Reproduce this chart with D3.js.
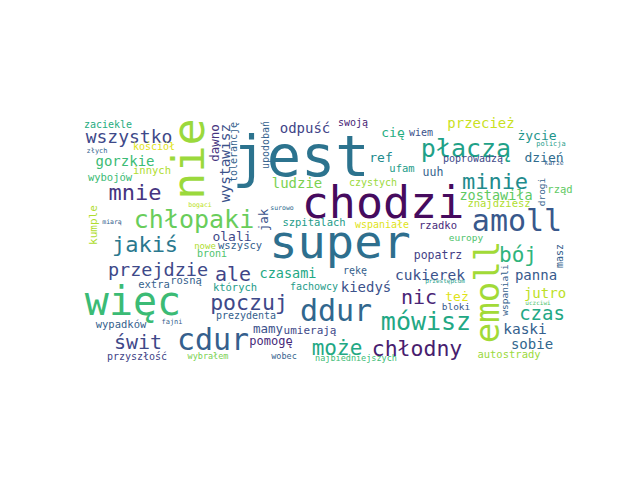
<!DOCTYPE html>
<html>
<head>
<meta charset="utf-8">
<script src="https://cdn.jsdelivr.net/npm/d3@7"></script>
<style>
  body { margin: 0; background: #fff; }
  text { font-family: "DejaVu Sans Mono", monospace; }
</style>
</head>
<body>
<svg id="chart" width="640" height="480"></svg>
<script>
// words of the cloud and their weights
var words = ["jest", "chodzi", "super", "nie", "więc", "emoll", "amoll", "ddur", "cdur", "płaczą",
  "chłopaki", "mówisz", "minie", "mnie", "jakiś", "poczuj", "chłodny", "może", "bój", "nic",
  "ale", "świt", "czas", "wszystko", "przejdzie", "odpuść", "gorzkie", "przecież", "ludzie", "cukierek",
  "kiedyś", "panna", "jutro", "kaski", "sobie", "czasami", "zostawiła", "życie", "dzień", "ref",
  "też", "olali", "wystawisz", "dawno", "jak", "cię", "mamy", "pomogę", "popatrz", "uuh",
  "umierają", "masz", "kumple", "zaciekle", "kościół", "innych", "wybojów", "wszyscy", "broni", "nowe",
  "extra", "rosną", "których", "prezydenta", "wypadków", "przyszłość", "szpitalach", "wspaniałe", "czystych", "swoją",
  "wiem", "ufam", "poprowadzą", "znajdziesz", "rzadko", "rząd", "fachowcy", "rękę", "bloki", "autostrady",
  "europy", "drogi", "wspaniali", "tolerancję", "upodobań", "wobec", "najbiedniejszych", "wybrałem", "złych", "bogaci",
  "miarą", "surowo", "fajni", "przestępcom", "uczciwi", "policja", "karze"];

var weights = [57, 45, 47, 45, 40, 34, 30, 30, 30, 25,
  25, 25, 22, 22, 22, 21.5, 21.5, 21, 21, 20,
  20, 20, 19, 18, 18.5, 14, 14, 14, 14, 14.5,
  14, 14, 14, 14.5, 14, 13.5, 13.5, 13, 13, 13,
  13, 13, 14.5, 12.5, 12.5, 13, 12.5, 12, 11.5, 11.5,
  11, 10, 11, 10, 10, 10.5, 10.5, 10.5, 10, 9,
  10.5, 10.5, 10.5, 10, 10.5, 10, 10.5, 10, 10, 10,
  10, 10.5, 10, 10.5, 10.5, 10.5, 10, 10, 9.5, 10.5,
  9.5, 9.5, 9.5, 10, 10, 8.5, 8.5, 8.5, 7, 6.5,
  6.5, 6.5, 7, 6, 6, 7, 6.5];

// colour position of each word on the viridis map
var tones = [0.38, 0.03, 0.36, 0.85, 0.68, 0.86, 0.27, 0.33, 0.3, 0.57,
  0.77, 0.6, 0.48, 0.15, 0.4, 0.22, 0.08, 0.6, 0.65, 0.1,
  0.2, 0.22, 0.6, 0.22, 0.22, 0.2, 0.68, 0.92, 0.8, 0.25,
  0.25, 0.28, 0.9, 0.3, 0.33, 0.6, 0.75, 0.52, 0.35, 0.48,
  0.95, 0.22, 0.25, 0.15, 0.25, 0.62, 0.25, 0.12, 0.18, 0.3,
  0.22, 0.3, 0.88, 0.62, 0.95, 0.88, 0.68, 0.3, 0.72, 0.88,
  0.3, 0.3, 0.55, 0.3, 0.3, 0.2, 0.55, 0.95, 0.85, 0.1,
  0.25, 0.55, 0.22, 0.88, 0.12, 0.75, 0.55, 0.3, 0.28, 0.85,
  0.72, 0.3, 0.3, 0.3, 0.3, 0.3, 0.68, 0.8, 0.3, 0.9,
  0.3, 0.35, 0.3, 0.55, 0.72, 0.55, 0.3];

// where the cloud placed each word (cloud frame 496 x 248), v = turned upright
var cloudLayout = [[221, 58], [303, 100], [260, 140], [124, 41, "v"], [53, 197], [419, 174, "v"], [437, 113], [256, 203], [133, 232], [386, 39],
  [114, 110], [346, 212], [415, 71], [55, 82], [65, 134], [169, 192], [337, 238], [257, 237], [438, 144], [339, 186],
  [153, 163], [58, 231], [462, 202], [49, 25], [78, 158], [225, 15], [45, 48], [401, 10], [217, 70], [350, 162],
  [286, 174], [456, 162], [465, 180], [445, 216], [452, 231], [208, 160], [416, 82], [457, 22], [464, 44], [301, 44],
  [377, 183], [152, 123], [150, 45, "v"], [139, 25, "v"], [188, 102, "v"], [313, 19], [188, 215], [191, 227], [358, 141], [353, 58],
  [230, 216], [483, 138, "v"], [17, 107, "v"], [28, 10], [74, 32], [72, 56], [30, 63], [160, 131], [132, 139], [125, 131],
  [74, 170], [106, 166], [155, 173], [166, 201], [41, 210], [57, 242], [234, 108], [302, 110], [293, 68], [273, 8],
  [341, 18], [322, 54], [393, 44], [419, 89], [358, 111], [480, 75], [234, 172], [275, 156], [376, 192], [429, 240],
  [386, 123], [465, 74, "v"], [428, 172, "v"], [157, 34, "v"], [189, 27, "v"], [204, 241], [276, 243], [128, 241], [17, 35], [120, 89],
  [32, 106], [202, 92], [92, 206], [365, 165], [458, 187], [471, 28], [474, 47]];

var svg = d3.select("#chart");
svg.append("rect").attr("width", 640).attr("height", 480).attr("fill", "#fff");

var x = d3.scaleLinear().domain([0, 496]).range([80, 576]);
var y = d3.scaleLinear().domain([0, 248]).range([118, 366]);
var size = d3.scaleLinear().domain([0, 57]).range([0, 57]);

var cloud = words.map(function (w, i) {
    return { text: w, weight: weights[i], tone: tones[i],
             cx: cloudLayout[i][0], cy: cloudLayout[i][1], upright: cloudLayout[i][2] === "v" };
});

svg.append("g").selectAll("text")
    .data(cloud)
  .enter().append("text")
    .attr("text-anchor", "middle")
    .attr("transform", function (d) {
        return "translate(" + x(d.cx) + "," + y(d.cy) + ")" + (d.upright ? " rotate(-90)" : "");
    })
    .style("font-size", function (d) { return size(d.weight) + "px"; })
    .attr("fill", function (d) { return d3.interpolateViridis(d.tone); })
    .text(function (d) { return d.text; });
</script>
</body>
</html>
